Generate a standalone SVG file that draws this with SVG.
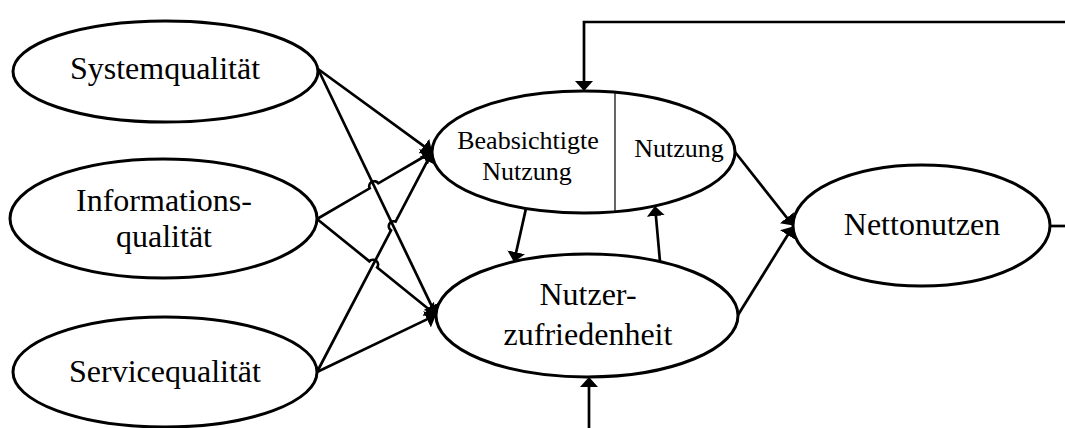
<svg xmlns="http://www.w3.org/2000/svg" width="1065" height="428" viewBox="0 0 1065 428">
  <style>
    .node { fill: #ffffff; stroke: #000000; stroke-width: 3; }
    .lbl { font-family: "Liberation Serif", "Times New Roman", serif; font-size: 32px; fill: #000000; text-anchor: middle; }
    .sm { font-size: 26px; }
    .divider { stroke: #000000; stroke-width: 1.2; fill: none; }
    .conn { fill: none; stroke: #000000; stroke-width: 2.7; stroke-linejoin: miter; }
    .arrow { marker-end: url(#head); }
  </style>
  <defs>
    <marker id="head" markerUnits="userSpaceOnUse" markerWidth="10" markerHeight="18" viewBox="0 0 10 18" refX="8" refY="9" orient="auto">
      <path d="M0,0 L10,9 L0,18 z" fill="#000000"/>
    </marker>
  </defs>

  <!-- white background -->
  <rect x="0" y="0" width="1065" height="428" fill="#ffffff"/>

  <g id="systemqualitaet">
    <ellipse class="node" cx="165.5" cy="71.5" rx="152.5" ry="50.5"/>
    <text class="lbl" x="165" y="79">Systemqualität</text>
  </g>

  <g id="informationsqualitaet">
    <ellipse class="node" cx="163.5" cy="218.5" rx="153.5" ry="59.5"/>
    <text class="lbl" x="164" y="211">Informations-</text>
    <text class="lbl" x="164" y="247">qualität</text>
  </g>

  <g id="servicequalitaet">
    <ellipse class="node" cx="165" cy="372" rx="152" ry="55"/>
    <text class="lbl" x="165" y="382">Servicequalität</text>
  </g>

  <g id="nutzung">
    <ellipse class="node" cx="583.5" cy="152" rx="151.5" ry="61"/>
    <line class="divider" x1="615" y1="92.3" x2="615" y2="211.7"/>
    <text class="lbl sm" x="528" y="149">Beabsichtigte</text>
    <text class="lbl sm" x="527" y="180">Nutzung</text>
    <text class="lbl sm" x="679" y="157">Nutzung</text>
  </g>

  <g id="nutzerzufriedenheit">
    <ellipse class="node" cx="587" cy="315.5" rx="151" ry="61.5"/>
    <text class="lbl" x="588" y="305">Nutzer-</text>
    <text class="lbl" x="588" y="345">zufriedenheit</text>
  </g>

  <g id="nettonutzen">
    <ellipse class="node" cx="921.5" cy="225.5" rx="128.5" ry="60.5"/>
    <text class="lbl" x="922" y="235">Nettonutzen</text>
  </g>

  <g id="connectors">
    <!-- quality dimensions into use / satisfaction, with line jumps at crossings -->
    <path class="conn arrow" d="M318,69 L430.4,150.8"/>
    <path class="conn arrow" d="M318,69 L435.1,313.2"/>
    <path class="conn arrow" d="M317,219 L369.7,188.3 A5,5 0 0 1 378.3,183.3 L430.3,153"/>
    <path class="conn arrow" d="M317,219 L369.4,261.3 A5,5 0 0 1 377.2,267.5 L434.4,313.7"/>
    <path class="conn arrow" d="M317,372 L391,230.4 A5,5 0 0 1 395.6,221.6 L431.1,153.8"/>
    <path class="conn arrow" d="M317,372 L434.2,315.9"/>

    <!-- between use and satisfaction -->
    <path class="conn arrow" d="M526,208.4 L514.4,260.1"/>
    <path class="conn arrow" d="M660,261.7 L655.2,208"/>

    <!-- into net benefits -->
    <path class="conn arrow" d="M735,152 L791.8,224"/>
    <path class="conn arrow" d="M738,315 L791.9,228.2"/>

    <!-- feedback loops -->
    <path class="conn arrow" d="M1065,22 H584 V89"/>
    <path class="conn" d="M1050,226 H1065"/>
    <path class="conn arrow" d="M589,428 V379"/>
  </g>
</svg>
